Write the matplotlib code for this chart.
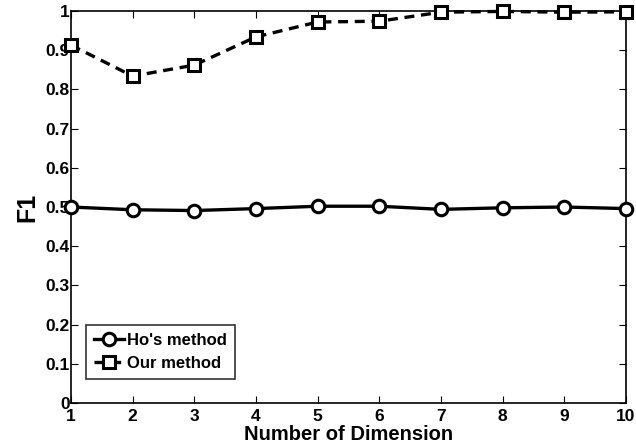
import matplotlib

matplotlib.use("Agg")
import matplotlib.pyplot as plt  # noqa: E402

dims = [1, 2, 3, 4, 5, 6, 7, 8, 9, 10]
ho_f1 = [0.500, 0.493, 0.491, 0.496, 0.502, 0.502, 0.494, 0.498, 0.500, 0.496]
our_f1 = [0.913, 0.834, 0.862, 0.934, 0.972, 0.974, 0.997, 0.999, 0.997, 0.998]
yticks = [0, 0.1, 0.2, 0.3, 0.4, 0.5, 0.6, 0.7, 0.8, 0.9, 1]
ytick_labels = ["0", "0.1", "0.2", "0.3", "0.4", "0.5", "0.6", "0.7", "0.8", "0.9", "1"]

plt.rcParams["font.family"] = ["Liberation Sans", "DejaVu Sans"]
plt.rcParams["font.weight"] = "bold"

fig = plt.figure(figsize=(6.36, 4.48), dpi=100)
ax = fig.add_axes([0.1116, 0.1004, 0.8726, 0.875])

ax.plot(dims, ho_f1, "-o", color="black", lw=2.4, ms=9, mfc="white", mew=2.2,
        label="Ho's method", clip_on=False, zorder=3)
ax.plot(dims, our_f1, "--s", color="black", lw=2.4, ms=8, mfc="white", mew=2.2,
        label="Our method", clip_on=False, zorder=3, dashes=(3, 2))

ax.set_xlim(1, 10)
ax.set_ylim(0, 1)
ax.set_xticks(dims)
ax.set_yticks(yticks)
ax.set_yticklabels(ytick_labels)
ax.tick_params(direction="in", top=True, right=True, labelsize=12.5, length=5,
               pad=1)
ax.tick_params(axis="x", pad=4)
for s in ax.spines.values():
    s.set_linewidth(1.2)

ax.set_xlabel("Number of Dimension", fontsize=14.5, fontweight="bold", labelpad=1)
ax.set_ylabel("F1", fontsize=18, fontweight="bold", labelpad=4)

leg = ax.legend(loc="lower left", bbox_to_anchor=(0.027, 0.061), borderaxespad=0,
                fontsize=12, frameon=True, fancybox=False, edgecolor="black",
                handlelength=1.8, handletextpad=0.15, borderpad=0.5,
                labelspacing=0.45)
leg.get_frame().set_linewidth(1.2)

fig.savefig("out.png", dpi=100)
